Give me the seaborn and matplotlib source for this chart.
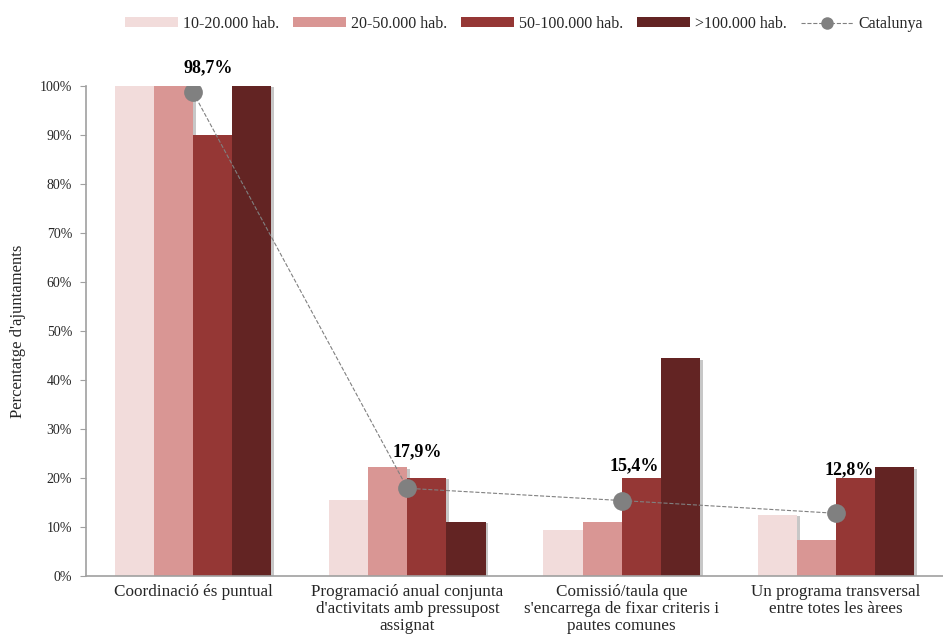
import matplotlib
matplotlib.use("Agg")
import matplotlib.pyplot as plt
import matplotlib.patheffects as pe
from matplotlib.patches import Patch
from matplotlib.lines import Line2D
import seaborn as sns
import pandas as pd

categories = [
    "Coordinació és puntual",
    "Programació anual conjunta\nd'activitats amb pressupost\nassignat",
    "Comissió/taula que\ns'encarrega de fixar criteris i\npautes comunes",
    "Un programa transversal\nentre totes les àrees",
]
series_names = ["10-20.000 hab.", "20-50.000 hab.", "50-100.000 hab.", ">100.000 hab."]
v_10_20 = [100.0, 15.6, 9.4, 12.5]
v_20_50 = [100.0, 22.2, 11.1, 7.4]
v_50_100 = [90.0, 20.0, 20.0, 20.0]
v_100p = [100.0, 11.1, 44.4, 22.2]
catalunya = [98.7, 17.9, 15.4, 12.8]
catalunya_labels = ["98,7%", "17,9%", "15,4%", "12,8%"]
yticks = [0, 10, 20, 30, 40, 50, 60, 70, 80, 90, 100]

# label offsets (points) relative to the Catalunya markers
label_offsets = [(10.8, 18), (7.2, 26), (9.4, 25.2), (10, 31.7)]

colors = ["#F2DCDB", "#D99694", "#953735", "#632423"]

rows = []
for name, vals in zip(series_names, [v_10_20, v_20_50, v_50_100, v_100p]):
    for c, v in zip(categories, vals):
        rows.append({"cat": c, "serie": name, "val": v})
df = pd.DataFrame(rows)

sns.set_theme(style="white")
plt.rcParams["font.family"] = ["Liberation Serif", "DejaVu Serif"]

fig = plt.figure(figsize=(9.43, 6.41), dpi=100)
ax = fig.add_axes([0.0912, 0.1014, 0.9088, 0.7644])

sns.barplot(data=df, x="cat", y="val", hue="serie", order=categories,
            hue_order=series_names, palette=colors, width=0.73,
            saturation=1, legend=False, ax=ax, errorbar=None, linewidth=0)
for p in ax.patches:
    p.set_path_effects([pe.SimplePatchShadow(offset=(2, -1), alpha=0.22, shadow_rgbFace="black"),
                        pe.Normal()])

sns.pointplot(x=categories, y=catalunya, order=categories, color="#808080",
              markers="o", linestyles="--", linewidth=0.8, markersize=9,
              ax=ax, zorder=5)
for ln in ax.lines:
    ln.set_markersize(13.5)
    ln.set_markeredgewidth(0)
    ln.set_zorder(5)

for i, (v, lab, off) in enumerate(zip(catalunya, catalunya_labels, label_offsets)):
    ax.annotate(lab, (i, v), xytext=off, textcoords="offset points",
                ha="center", va="center", fontsize=13, fontweight="bold",
                color="black", zorder=6)

ax.set_xlim(-0.5, 3.5)
ax.set_ylim(0, 100)
ax.set_yticks(yticks)
ax.set_yticklabels([f"{t}%" for t in yticks], fontsize=10)
ax.tick_params(axis="y", length=4, width=0.8, color="#A0A0A0", pad=6, left=True)
ax.tick_params(axis="x", length=0, pad=6)
for t in ax.get_xticklabels():
    t.set_fontsize(12.3)
    t.set_linespacing(1.08)
ax.set_xlabel("")
ax.set_ylabel("Percentatge d'ajuntaments", fontsize=12, labelpad=10)
for s in ["top", "right"]:
    ax.spines[s].set_visible(False)
for s in ["left", "bottom"]:
    ax.spines[s].set_color("#A0A0A0")
    ax.spines[s].set_linewidth(1.2)

handles = [Patch(facecolor=c, edgecolor="none") for c in colors]
handles.append(Line2D([0], [0], color="#808080", linestyle="--", linewidth=0.8,
                      marker="o", markersize=9, markeredgewidth=0))
labels = series_names + ["Catalunya"]
fig.legend(handles, labels, loc="upper center", bbox_to_anchor=(0.556, 0.998),
           ncol=5, frameon=False, fontsize=11.5, handlelength=3.3, handleheight=0.5,
           columnspacing=0.9, handletextpad=0.3)

fig.savefig("out.png", dpi=100)
